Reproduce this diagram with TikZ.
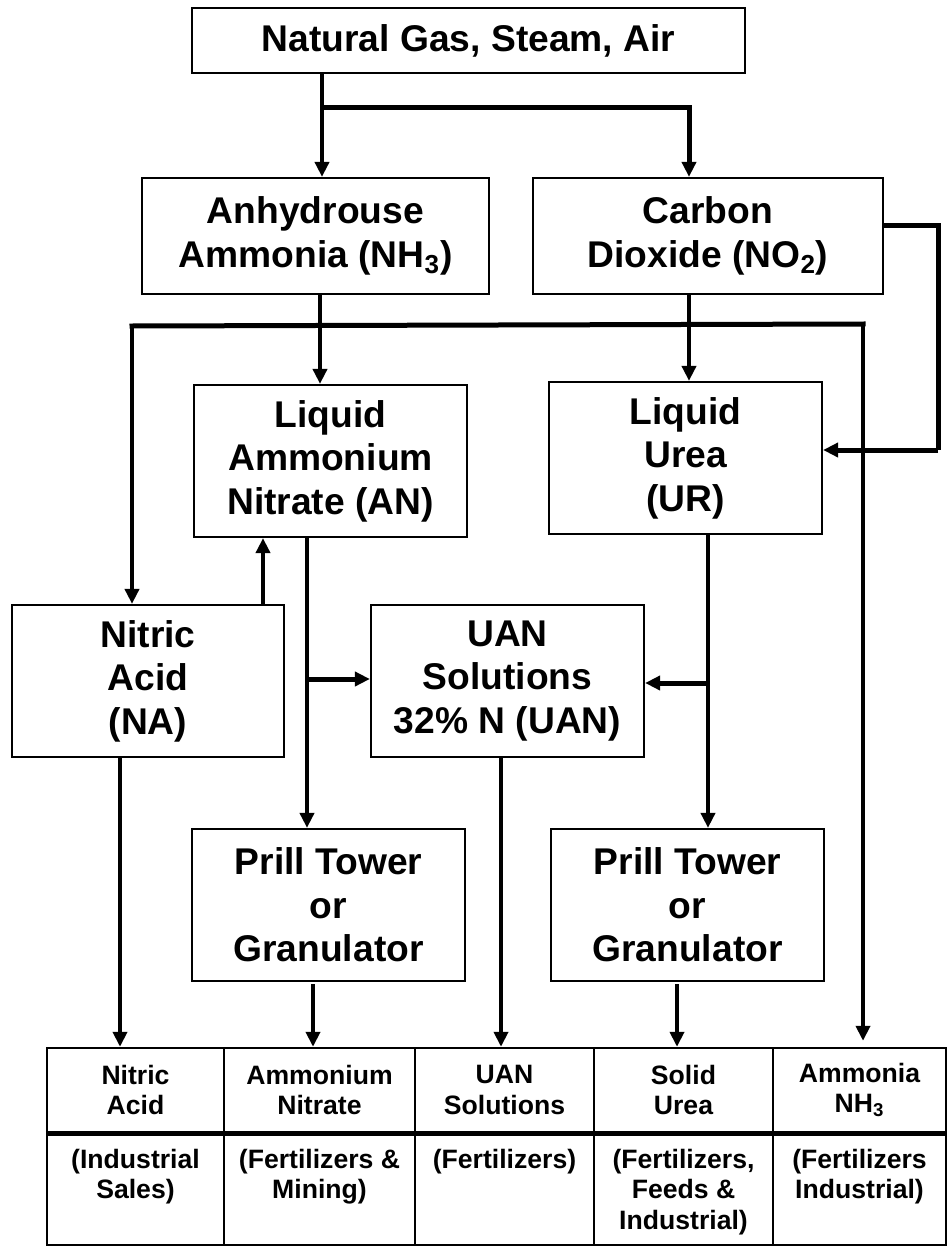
\documentclass[tikz,border=0pt]{standalone}
\usepackage{fontspec}
\setmainfont{Liberation Sans}
\usetikzlibrary{arrows.meta,calc}
\tikzset{
  box/.style={draw, line width=1.1pt, inner sep=0pt, align=center,
    font=\fontsize{18.6}{21.75}\selectfont\bfseries},
  cell/.style={draw, line width=1.2pt, inner sep=0pt},
  celltext/.style={align=center, inner sep=0pt,
    font=\fontsize{13.3}{15.2}\selectfont\bfseries},
  arr/.style={line width=2pt, -{Triangle[length=7.5pt,width=7pt]}},
  tharr/.style={line width=2.5pt, -{Triangle[length=7.5pt,width=7pt]}},
  ln/.style={line width=2pt},
  thk/.style={line width=2.5pt},
}
\newcommand\mkbox[7]{\node[#1, minimum width={(#5-#3)*0.5pt}, minimum height={(#6-#4)*0.5pt}] (#2) at ({(#3+#5)/2},{(#4+#6)/2}) {#7};}
\begin{document}
\begin{tikzpicture}[x=0.5pt,y=-0.5pt]
\useasboundingbox (0,0) rectangle (948,1247);
% main boxes
\mkbox{box}{top}{192}{8}{745}{73}{Natural Gas, Steam, Air}
\mkbox{box}{anh}{142}{178}{489}{294}{Anhydrouse\\Ammonia (NH\textsubscript{3})}
\mkbox{box}{co2}{533}{178}{883}{294}{Carbon\\Dioxide (NO\textsubscript{2})}
\mkbox{box}{lan}{194}{385}{467}{537}{Liquid\\Ammonium\\Nitrate (AN)}
\mkbox{box}{ur}{549}{382}{822}{534}{Liquid\\Urea\\(UR)}
\mkbox{box}{na}{12}{605}{284}{757}{Nitric\\Acid\\(NA)}
\mkbox{box}{uan}{371}{605}{644}{757}{UAN\\Solutions\\32\% N (UAN)}
\mkbox{box}{p1}{192}{829}{465}{981}{Prill Tower\\or\\Granulator}
\mkbox{box}{p2}{551}{829}{824}{981}{Prill Tower\\or\\Granulator}
% table cells
\mkbox{cell}{t1}{47}{1048}{224}{1132}{}
\mkbox{cell}{t2}{224}{1048}{415}{1132}{}
\mkbox{cell}{t3}{415}{1048}{594}{1132}{}
\mkbox{cell}{t4}{594}{1048}{773}{1132}{}
\mkbox{cell}{t5}{773}{1048}{946}{1132}{}
\mkbox{cell}{b1}{47}{1132}{224}{1245}{}
\mkbox{cell}{b2}{224}{1132}{415}{1245}{}
\mkbox{cell}{b3}{415}{1132}{594}{1245}{}
\mkbox{cell}{b4}{594}{1132}{773}{1245}{}
\mkbox{cell}{b5}{773}{1132}{946}{1245}{}
\draw[line width=2.5pt] (t1.south west) -- (t5.south east);
% table texts
\node[celltext] (tt1) at (t1.center) {Nitric\\Acid};
\node[celltext] (tt2) at (t2.center) {Ammonium\\Nitrate};
\node[celltext] (tt3) at (t3.center) {UAN\\Solutions};
\node[celltext] (tt4) at (t4.center) {Solid\\Urea};
\node[celltext] (tt5) at (t5.center) {Ammonia\\NH\textsubscript{3}};
\node[celltext, anchor=north] (bt1) at ($(b1.north)+(0,18)$) {(Industrial\\Sales)};
\node[celltext, anchor=north] (bt2) at ($(b2.north)+(0,18)$) {(Fertilizers \&\\Mining)};
\node[celltext, anchor=north] (bt3) at ($(b3.north)+(0,18)$) {(Fertilizers)};
\node[celltext, anchor=north] (bt4) at ($(b4.north)+(0,18)$) {(Fertilizers,\\Feeds \&\\Industrial)};
\node[celltext, anchor=north] (bt5) at ($(b5.north)+(0,18)$) {(Fertilizers\\Industrial)};
% junction coordinates
\coordinate (j1) at (322,108);
\coordinate (c1) at (689,108);
\coordinate (k1) at (938,225);
\coordinate (k2) at (938,450);
\coordinate (h1) at (863,324);
\coordinate (h2) at (132,326);
\coordinate (m1) at (320,0);
\coordinate (n1) at (263,0);
\coordinate (l1) at (307,679);
\coordinate (r1) at (708,683);
\coordinate (v1) at (120,0);
\coordinate (v2) at (313,0);
\coordinate (v3) at (501,0);
\coordinate (v4) at (677,0);
% connectors
\draw[arr] (top.south -| j1) -- (anh.north -| j1);
\draw[tharr] (j1) -- (c1) -- (co2.north -| c1);
\draw[arr] (co2.south -| c1) -- (ur.north -| c1);
\draw[thk] (co2.east |- k1) -- (k1) -- (k2);
\draw[tharr] (k2) -- (ur.east |- k2);
\draw[arr] (anh.south -| m1) -- (lan.north -| m1);
\draw[thk, line cap=rect] (h1) -- (h2);
\draw[arr] (h2) -- (na.north -| h2);
\draw[arr, shorten >=3pt] (h1) -- (t5.north -| h1);
\draw[arr] (na.north -| n1) -- (lan.south -| n1);
\draw[arr] (lan.south -| l1) -- (p1.north -| l1);
\draw[tharr] (l1) -- (uan.west |- l1);
\draw[arr] (ur.south -| r1) -- (p2.north -| r1);
\draw[tharr] (r1) -- (uan.east |- r1);
\draw[arr] (na.south -| v1) -- (t1.north -| v1);
\draw[arr, shorten <=1pt] (p1.south -| v2) -- (t2.north -| v2);
\draw[arr] (uan.south -| v3) -- (t3.north -| v3);
\draw[arr, shorten <=1pt] (p2.south -| v4) -- (t4.north -| v4);
\end{tikzpicture}
\end{document}
